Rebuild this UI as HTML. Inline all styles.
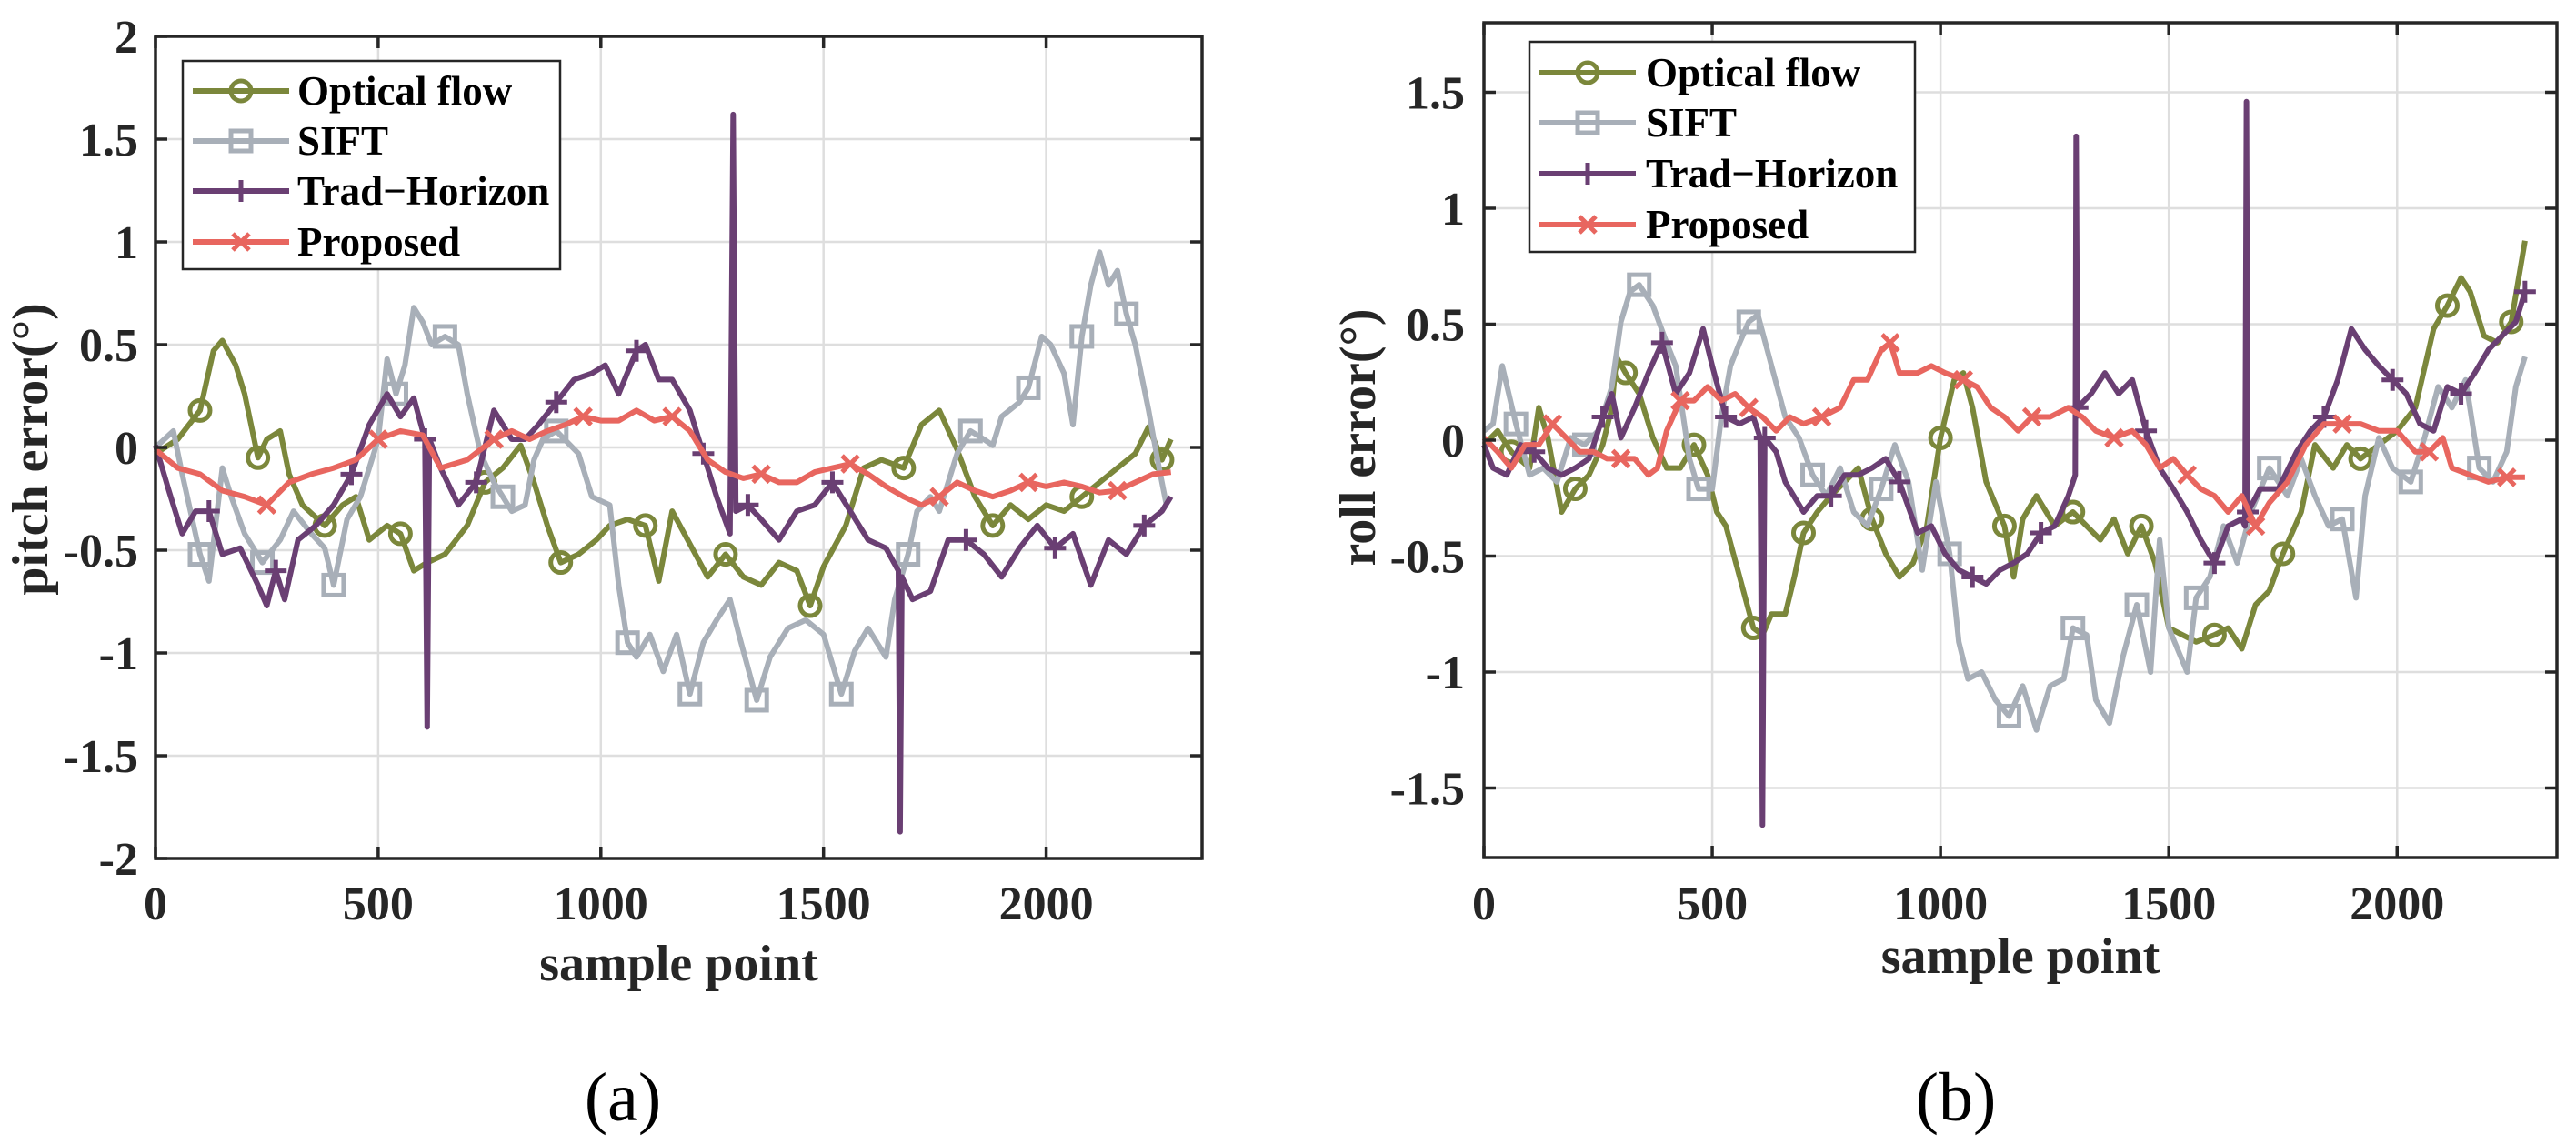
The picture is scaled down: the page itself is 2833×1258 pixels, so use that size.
<!DOCTYPE html>
<html><head><meta charset="utf-8"><style>
html,body{margin:0;padding:0;background:#fff;}
svg{display:block;}
text{font-family:"Liberation Serif",serif;}
</style></head><body>
<svg id="fig" width="2833" height="1258" viewBox="0 0 2833 1258" xmlns="http://www.w3.org/2000/svg" font-family="Liberation Serif, serif"></svg>
<script>
// ---------- DATA: pitch (a) ----------
const pOptX=[0,50,100,130,150,180,200,230,250,280,300,330,380,420,450,480,520,550,580,610,650,700,740,780,820,850,880,910,950,990,1020,1060,1100,1130,1160,1200,1240,1280,1320,1360,1400,1440,1470,1500,1550,1590,1630,1680,1720,1760,1800,1840,1880,1920,1960,2000,2040,2080,2120,2160,2200,2230,2260,2280];
const pOptY=[-0.03,0.04,0.18,0.47,0.52,0.40,0.26,-0.05,0.04,0.08,-0.13,-0.28,-0.38,-0.28,-0.24,-0.45,-0.38,-0.42,-0.6,-0.56,-0.52,-0.38,-0.17,-0.1,0.01,-0.17,-0.38,-0.56,-0.52,-0.45,-0.38,-0.35,-0.38,-0.65,-0.31,-0.47,-0.63,-0.52,-0.63,-0.67,-0.56,-0.6,-0.77,-0.58,-0.38,-0.1,-0.06,-0.1,0.11,0.18,-0.01,-0.24,-0.38,-0.28,-0.35,-0.28,-0.31,-0.24,-0.17,-0.1,-0.03,0.1,-0.06,0.04];
const pSiftX=[0,40,60,100,120,150,170,200,240,280,310,350,380,400,430,460,500,520,540,560,580,600,620,650,680,700,730,760,780,800,830,850,870,900,950,980,1020,1040,1060,1080,1110,1140,1170,1200,1230,1260,1290,1310,1350,1380,1420,1460,1500,1540,1570,1600,1640,1660,1690,1710,1740,1760,1800,1830,1860,1880,1900,1940,1960,1990,2010,2040,2060,2080,2100,2120,2140,2160,2180,2200,2230,2250,2270];
const pSiftY=[0,0.08,-0.13,-0.52,-0.65,-0.1,-0.24,-0.42,-0.56,-0.45,-0.31,-0.42,-0.49,-0.67,-0.35,-0.24,0.04,0.43,0.26,0.4,0.68,0.61,0.5,0.54,0.5,0.26,-0.03,-0.17,-0.24,-0.31,-0.28,-0.06,0.04,0.08,-0.03,-0.24,-0.28,-0.67,-0.95,-1.02,-0.91,-1.09,-0.91,-1.2,-0.95,-0.84,-0.74,-0.91,-1.23,-1.02,-0.88,-0.84,-0.91,-1.2,-0.99,-0.88,-1.02,-0.74,-0.52,-0.31,-0.24,-0.31,-0.03,0.08,0.04,0.01,0.15,0.22,0.29,0.54,0.5,0.36,0.11,0.54,0.79,0.95,0.79,0.86,0.65,0.5,0.18,-0.06,-0.28];
const pTradX=[0,30,60,90,120,150,190,230,250,270,290,320,360,400,440,480,520,550,580,605,610,615,640,680,720,760,800,830,860,900,940,980,1010,1040,1080,1100,1130,1160,1200,1230,1260,1290,1297,1303,1330,1360,1400,1440,1480,1520,1560,1600,1640,1668,1672,1676,1700,1740,1780,1820,1860,1900,1940,1980,2020,2060,2100,2140,2180,2220,2260,2280];
const pTradY=[0.01,-0.21,-0.42,-0.31,-0.31,-0.52,-0.49,-0.67,-0.77,-0.6,-0.74,-0.45,-0.38,-0.28,-0.13,0.11,0.26,0.15,0.24,0.04,-1.36,0.04,-0.1,-0.28,-0.17,0.18,0.04,0.04,0.11,0.22,0.33,0.36,0.4,0.26,0.47,0.5,0.33,0.33,0.18,-0.03,-0.24,-0.42,1.62,-0.31,-0.28,-0.35,-0.45,-0.31,-0.28,-0.17,-0.31,-0.45,-0.49,-0.6,-1.87,-0.63,-0.74,-0.7,-0.45,-0.45,-0.52,-0.63,-0.49,-0.38,-0.49,-0.42,-0.67,-0.45,-0.52,-0.38,-0.31,-0.24];
const pPropX=[0,50,100,150,200,250,300,350,400,450,500,550,600,640,700,760,800,840,880,920,960,1000,1040,1080,1120,1160,1200,1240,1280,1320,1360,1400,1440,1480,1520,1560,1600,1640,1680,1720,1760,1800,1840,1880,1920,1960,2000,2040,2080,2120,2160,2200,2240,2280];
const pPropY=[-0.01,-0.1,-0.13,-0.21,-0.24,-0.28,-0.17,-0.13,-0.1,-0.06,0.04,0.08,0.06,-0.1,-0.06,0.04,0.08,0.04,0.08,0.11,0.15,0.13,0.13,0.18,0.13,0.15,0.08,-0.06,-0.12,-0.15,-0.13,-0.17,-0.17,-0.12,-0.1,-0.08,-0.13,-0.19,-0.24,-0.28,-0.24,-0.17,-0.21,-0.24,-0.21,-0.17,-0.19,-0.17,-0.19,-0.22,-0.21,-0.17,-0.13,-0.12];
// ---------- DATA: roll (b) ----------
const rOptX=[0,30,60,100,120,140,170,200,230,260,280,290,310,340,370,400,430,460,490,510,530,560,590,610,630,660,680,700,730,760,790,820,850,880,910,940,970,1000,1030,1050,1070,1100,1140,1160,1180,1210,1250,1290,1320,1350,1380,1410,1440,1470,1500,1530,1560,1600,1630,1660,1690,1720,1750,1790,1820,1860,1890,1920,1960,2000,2040,2080,2110,2140,2160,2190,2220,2250,2280];
const rOptY=[-0.02,0.04,-0.05,-0.12,0.14,0.01,-0.31,-0.21,-0.15,-0.02,0.14,0.36,0.29,0.2,0.01,-0.12,-0.12,-0.02,-0.15,-0.31,-0.37,-0.59,-0.81,-0.84,-0.75,-0.75,-0.59,-0.4,-0.31,-0.24,-0.18,-0.12,-0.34,-0.49,-0.59,-0.53,-0.37,0.01,0.26,0.29,0.14,-0.18,-0.37,-0.59,-0.34,-0.24,-0.37,-0.31,-0.37,-0.43,-0.34,-0.49,-0.37,-0.53,-0.81,-0.84,-0.87,-0.84,-0.81,-0.9,-0.71,-0.65,-0.49,-0.31,-0.02,-0.12,-0.02,-0.08,-0.02,0.04,0.14,0.48,0.58,0.7,0.64,0.45,0.42,0.51,0.86];
const rSiftX=[0,20,40,70,100,130,160,190,220,250,280,300,320,340,370,400,420,450,470,500,520,540,560,580,600,630,660,690,720,750,780,810,840,870,900,930,960,990,1020,1040,1060,1090,1120,1150,1180,1210,1240,1270,1290,1320,1340,1370,1400,1430,1460,1480,1500,1540,1560,1590,1620,1650,1680,1720,1760,1790,1820,1850,1880,1910,1930,1960,1990,2030,2060,2090,2120,2150,2180,2210,2240,2260,2280];
const rSiftY=[0.04,0.07,0.32,0.07,-0.15,-0.12,-0.18,0.01,-0.02,0.04,0.23,0.51,0.64,0.67,0.58,0.42,0.32,-0.08,-0.21,-0.21,0.1,0.32,0.42,0.51,0.54,0.32,0.1,0.01,-0.15,-0.24,-0.12,-0.31,-0.37,-0.21,-0.02,-0.18,-0.56,-0.18,-0.49,-0.87,-1.03,-1.0,-1.12,-1.19,-1.06,-1.25,-1.06,-1.03,-0.81,-0.84,-1.12,-1.22,-0.93,-0.71,-1.0,-0.43,-0.81,-1.0,-0.68,-0.59,-0.37,-0.53,-0.31,-0.12,-0.24,-0.08,-0.24,-0.37,-0.34,-0.68,-0.24,0.01,-0.12,-0.18,0.01,0.23,0.14,0.26,-0.12,-0.18,-0.05,0.23,0.36];
const rTradX=[0,20,50,80,110,140,170,200,230,260,280,300,330,360,390,420,450,480,500,530,560,590,605,610,615,640,660,700,730,760,790,820,850,880,910,950,980,1010,1040,1070,1100,1130,1160,1190,1220,1250,1280,1295,1297,1300,1330,1360,1390,1420,1450,1480,1510,1540,1570,1600,1630,1660,1667,1670,1673,1700,1740,1780,1810,1840,1870,1900,1930,1960,1990,2020,2050,2080,2110,2140,2170,2200,2230,2260,2280];
const rTradY=[-0.02,-0.12,-0.15,-0.02,-0.05,-0.12,-0.15,-0.12,-0.08,0.1,0.2,0.01,0.14,0.29,0.42,0.2,0.29,0.48,0.32,0.1,0.07,0.1,0.01,-1.66,0.01,-0.05,-0.18,-0.31,-0.24,-0.24,-0.15,-0.15,-0.12,-0.08,-0.18,-0.4,-0.37,-0.49,-0.56,-0.59,-0.62,-0.56,-0.53,-0.49,-0.4,-0.37,-0.24,-0.15,1.31,0.14,0.2,0.29,0.2,0.26,0.04,-0.12,-0.21,-0.31,-0.43,-0.53,-0.37,-0.34,-0.37,1.46,-0.31,-0.21,-0.21,-0.05,0.04,0.1,0.26,0.48,0.39,0.32,0.26,0.2,0.07,0.04,0.23,0.2,0.29,0.39,0.45,0.51,0.64];
const rPropX=[0,30,60,90,120,150,180,210,240,270,300,330,360,380,400,430,460,490,520,550,580,610,640,670,700,740,780,810,840,870,890,910,950,980,1010,1050,1080,1110,1140,1170,1200,1240,1280,1310,1340,1380,1420,1450,1480,1510,1540,1570,1600,1630,1660,1690,1720,1760,1800,1840,1880,1920,1960,2000,2040,2070,2100,2120,2160,2200,2240,2280];
const rPropY=[0.01,-0.05,-0.12,-0.02,-0.02,0.07,0.01,-0.05,-0.05,-0.08,-0.08,-0.08,-0.15,-0.12,0.04,0.17,0.17,0.23,0.17,0.2,0.14,0.1,0.04,0.1,0.07,0.1,0.14,0.26,0.26,0.39,0.42,0.29,0.29,0.32,0.29,0.26,0.23,0.14,0.1,0.04,0.1,0.1,0.14,0.1,0.04,0.01,0.04,-0.02,-0.12,-0.08,-0.15,-0.21,-0.24,-0.31,-0.24,-0.37,-0.27,-0.18,-0.02,0.07,0.07,0.07,0.04,0.04,-0.05,-0.05,0.01,-0.12,-0.15,-0.18,-0.16,-0.16];
// ---------- tick labels / names ----------
const xTicks=[0,500,1000,1500,2000];
const pYTicks=[2,1.5,1,0.5,0,-0.5,-1,-1.5,-2];
const rYTicks=[1.5,1,0.5,0,-0.5,-1,-1.5];
const seriesNames=["Optical flow","SIFT","Trad\u2212Horizon","Proposed"];

const NS="http://www.w3.org/2000/svg";
const svg=document.getElementById('fig');
function mk(tag,attrs,parent){const e=document.createElementNS(NS,tag);for(const k in attrs)e.setAttribute(k,attrs[k]);(parent||svg).appendChild(e);return e;}
const COLORS=["#7b873b","#a8afb8","#6a3f73","#e8665f"];
const MARK=["circle","square","plus","cross"];
const FF="Liberation Serif, serif";

function marker(g,type,x,y,c){
  let m;
  if(type==="circle"){m=mk('circle',{cx:x,cy:y,r:11,fill:'none',stroke:c,'stroke-width':5},g);}
  else if(type==="square"){m=mk('rect',{x:x-11,y:y-11,width:22,height:22,fill:'none',stroke:c,'stroke-width':5},g);}
  else if(type==="plus"){m=mk('path',{d:`M${x-12},${y}H${x+12}M${x},${y-12}V${y+12}`,stroke:c,'stroke-width':5,fill:'none'},g);}
  else {m=mk('path',{d:`M${x-9},${y-9}L${x+9},${y+9}M${x-9},${y+9}L${x+9},${y-9}`,stroke:c,'stroke-width':5,fill:'none'},g);}
  
  
}

function drawPanel(cfg){
  const {L,R,T,B,xmax,ymin,ymax,yTicks,xs,ys,ylabel,xlabelY,ylabelX,ylabelYc,tickRight,leg,caption,capX,id}=cfg;
  const sx=v=>L+(v/xmax)*(R-L);
  const sy=v=>T+(ymax-v)/(ymax-ymin)*(B-T);
  const g=mk('g',{});
  
  
  xTicks.forEach(t=>{const l=mk('line',{x1:sx(t),x2:sx(t),y1:T,y2:B,stroke:'#dedede','stroke-width':2.5},g);});
  yTicks.forEach(t=>{const l=mk('line',{x1:L,x2:R,y1:sy(t),y2:sy(t),stroke:'#dedede','stroke-width':2.5},g);});
  for(let s=0;s<4;s++){
    const sg=mk('g',{},g);
    
    
    const X=xs[s],Y=ys[s];
    const d=X.map((v,i)=>(i?'L':'M')+sx(v).toFixed(1)+','+sy(Y[i]).toFixed(1)).join('');
    const p=mk('path',{d:d,fill:'none',stroke:COLORS[s],'stroke-width':6,'stroke-linejoin':'round'},sg);
    
    
    for(let i=2+s;i<X.length;i+=5){
      if(Math.abs(Y[i])>1.2 && s===2) continue;
      marker(sg,MARK[s],sx(X[i]),sy(Y[i]),COLORS[s]);
    }
  }
  const box=mk('rect',{x:L,y:T,width:R-L,height:B-T,fill:'none',stroke:'#262626','stroke-width':3.5},g);
  
  
  xTicks.forEach(t=>{
    const x=sx(t);
    mk('path',{d:`M${x},${B}V${B-13}M${x},${T}V${T+13}`,stroke:'#262626','stroke-width':3.5},g);
    const tx=mk('text',{x:x,y:1011,'text-anchor':'middle','font-size':52,'font-weight':'bold','font-family':FF,fill:'#262626'},g);
    tx.textContent=t;
    
    
  });
  yTicks.forEach(t=>{
    const y=sy(t);
    mk('path',{d:`M${L},${y}H${L+13}M${R},${y}H${R-13}`,stroke:'#262626','stroke-width':3.5},g);
    const tx=mk('text',{x:tickRight,y:y+18,'text-anchor':'end','font-size':52,'font-weight':'bold','font-family':FF,fill:'#262626'},g);
    tx.textContent=String(t);
    
    
  });
  const xl=mk('text',{x:(L+R)/2,y:xlabelY,'text-anchor':'middle','font-size':56,'font-weight':'bold','font-family':FF,fill:'#262626'},g);
  xl.textContent='sample point';
  
  
  const yl=mk('text',{x:0,y:0,'text-anchor':'middle','font-size':56,'font-weight':'bold','font-family':FF,fill:'#262626',transform:`translate(${ylabelX},${ylabelYc}) rotate(-90)`},g);
  yl.textContent=ylabel;
  
  
  const lg=mk('g',{},g);
  
  
  mk('rect',{x:leg.x,y:leg.y,width:leg.w,height:leg.h,fill:'#fff',stroke:'#262626','stroke-width':2.5},lg);
  for(let s=0;s<4;s++){
    const ry=leg.rows[s];
    const e=mk('g',{},lg);
    
    
    mk('line',{x1:leg.lx1,x2:leg.lx2,y1:ry,y2:ry,stroke:COLORS[s],'stroke-width':6},e);
    marker(e,MARK[s],(leg.lx1+leg.lx2)/2,ry,COLORS[s]);
    const t=mk('text',{x:leg.tx,y:ry+15,'font-size':45,'font-weight':'bold','font-family':FF,fill:'#000'},e);
    t.textContent=seriesNames[s];
  }
  const cap=mk('text',{x:capX,y:1232,'text-anchor':'middle','font-size':76,'font-family':FF,fill:'#000'},svg);
  cap.textContent=caption;
  
  
}

drawPanel({id:'pitch',L:171,R:1322,T:40,B:944,xmax:2350,ymin:-2,ymax:2,yTicks:pYTicks,
  xs:[pOptX,pSiftX,pTradX,pPropX],ys:[pOptY,pSiftY,pTradY,pPropY],
  ylabel:'pitch error(°)',xlabelY:1078,ylabelX:52,ylabelYc:494,tickRight:152,
  leg:{x:201,y:67,w:415,h:229,rows:[100,155,210,266],lx1:212,lx2:318,tx:327},caption:'(a)',capX:685});
drawPanel({id:'roll',L:1632,R:2812,T:25,B:943,xmax:2350,ymin:-1.8,ymax:1.8,yTicks:rYTicks,
  xs:[rOptX,rSiftX,rTradX,rPropX],ys:[rOptY,rSiftY,rTradY,rPropY],
  ylabel:'roll error(°)',xlabelY:1070,ylabelX:1512,ylabelYc:481,tickRight:1611,
  leg:{x:1682,y:46,w:424,h:231,rows:[80,135,191,247],lx1:1693,lx2:1799,tx:1810},caption:'(b)',capX:2151});
</script>
</body></html>
